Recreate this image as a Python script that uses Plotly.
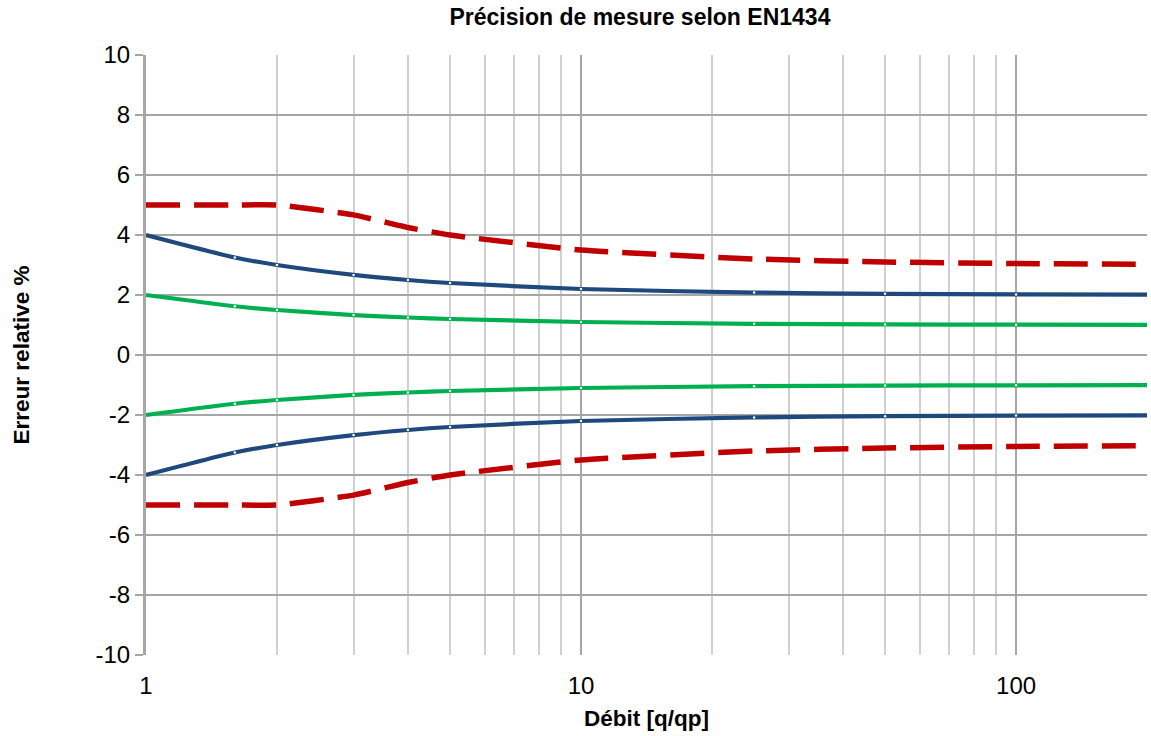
import plotly.graph_objects as go

# Data (q/qp and relative error %)
q_ratio = [1, 1.6, 2, 3, 4, 5, 10, 25, 50, 100, 200]
red_upper = [5, 5, 5, 4.67, 4.25, 4.0, 3.5, 3.2, 3.1, 3.05, 3.025]
blue_upper = [4, 3.25, 3.0, 2.67, 2.5, 2.4, 2.2, 2.08, 2.04, 2.02, 2.01]
green_upper = [2, 1.625, 1.5, 1.33, 1.25, 1.2, 1.1, 1.04, 1.02, 1.01, 1.005]
red_lower = [-v for v in red_upper]
blue_lower = [-v for v in blue_upper]
green_lower = [-v for v in green_upper]

x_ticks = [1, 10, 100]
x_tick_labels = ["1", "10", "100"]
y_ticks = list(range(-10, 11, 2))
y_tick_labels = [str(v) for v in y_ticks]  # plain hyphen minus

RED = "#C00000"
BLUE = "#1F497D"
GREEN = "#00B050"

fig = go.Figure()

def add(y, color, dash, width, smoothing):
    fig.add_trace(go.Scatter(
        x=q_ratio, y=y, mode="lines",
        line=dict(color=color, width=width, dash=dash, shape="spline", smoothing=smoothing),
        showlegend=False, hoverinfo="x+y"))

add(red_upper, RED, "34px,14px", 5.5, 0.45)
add(red_lower, RED, "34px,14px", 5.5, 0.45)
add(blue_upper, BLUE, "solid", 4.2, 0.6)
add(blue_lower, BLUE, "solid", 4.2, 0.6)
add(green_upper, GREEN, "solid", 4.2, 0.6)
add(green_lower, GREEN, "solid", 4.2, 0.6)

# tiny white point markers at data points (blue & green)
for y in [blue_upper, blue_lower, green_upper, green_lower]:
    fig.add_trace(go.Scatter(x=q_ratio[1:-1], y=y[1:-1], mode="markers",
                             marker=dict(color="white", size=2.5),
                             showlegend=False, hoverinfo="skip"))

font = "Liberation Sans, Arial, sans-serif"

fig.update_layout(
    width=1151, height=736,
    margin=dict(l=146, r=4, t=55, b=81, autoexpand=False),
    paper_bgcolor="white", plot_bgcolor="white",
    font=dict(family=font, color="black"),
    title=dict(text="<b>Précision de mesure selon EN1434</b>", x=0.556, xanchor="center",
               y=0.977, yanchor="middle", font=dict(size=23, family=font, color="black")),
    xaxis=dict(
        type="log", range=[0, 2.30103], automargin=False,
        tickvals=x_ticks, ticktext=x_tick_labels,
        tickfont=dict(size=24, family=font),
        showgrid=True, gridcolor="#A6A6A6", gridwidth=2,
        minor=dict(showgrid=True, gridcolor="#D0D0D0", gridwidth=2,
                   tickvals=[2, 3, 4, 5, 6, 7, 8, 9, 20, 30, 40, 50, 60, 70, 80, 90, 200]),
        showline=False, zeroline=False, ticks="", ticklabelstandoff=14,
        title=dict(text="<b>Débit [q/qp]</b>", font=dict(size=22.5, family=font), standoff=12),
    ),
    yaxis=dict(
        range=[-10, 10], tickvals=y_ticks, ticktext=y_tick_labels, automargin=False,
        tickfont=dict(size=24, family=font),
        showgrid=True, gridcolor="#A6A6A6", gridwidth=2,
        zeroline=False, showline=True, linecolor="#A6A6A6", linewidth=3,
        ticks="outside", ticklen=8, tickcolor="#A6A6A6", tickwidth=2,
        title=dict(text="<b>Erreur relative %</b>", font=dict(size=22.5, family=font), standoff=60),
    ),
)

fig.write_html("out.html", config={"displayModeBar": False},
               post_script="document.body.style.margin='0';document.body.style.overflow='hidden';")
